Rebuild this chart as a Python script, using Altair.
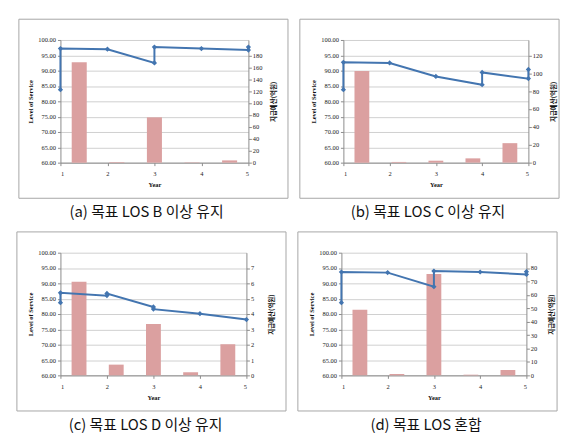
import altair as alt
import pandas as pd

YEARS = [1, 2, 3, 4, 5]
BAR_SLOTS = ["1", "2", "3", "4", "5"]
LOS_TICKS = [60, 65, 70, 75, 80, 85, 90, 95, 100]

# (a) 목표 LOS B 이상 유지
A_LOS_YEAR = [1, 1, 2, 3, 3, 4, 5, 5]
A_LOS = [83.8, 97.2, 97.0, 92.5, 97.7, 97.2, 96.7, 97.7]
A_BUDGET = [168.5, 1.0, 76.0, 0.6, 3.8]
A_BUDGET_TICKS = [0, 20, 40, 60, 80, 100, 120, 140, 160, 180]

# (b) 목표 LOS C 이상 유지
B_LOS_YEAR = [1, 1, 2, 3, 4, 4, 5, 5]
B_LOS = [83.8, 92.7, 92.5, 88.1, 85.4, 89.4, 87.4, 90.4]
B_BUDGET = [102.5, 0.8, 2.2, 4.8, 21.8]
B_BUDGET_TICKS = [0, 20, 40, 60, 80, 100, 120]

# (c) 목표 LOS D 이상 유지
C_LOS_YEAR = [1, 1, 2, 2, 3, 3, 4, 5]
C_LOS = [83.7, 86.9, 86.0, 86.7, 82.3, 81.6, 80.1, 78.2]
C_BUDGET = [6.1, 0.7, 3.35, 0.2, 2.03]
C_BUDGET_TICKS = [0, 1, 2, 3, 4, 5, 6, 7]

# (d) 목표 LOS 혼합
D_LOS_YEAR = [1, 1, 2, 3, 3, 4, 5, 5]
D_LOS = [83.7, 93.7, 93.5, 88.9, 94.0, 93.7, 92.9, 93.8]
D_BUDGET = [48.9, 1.0, 75.5, 0.5, 4.0]
D_BUDGET_TICKS = [0, 10, 20, 30, 40, 50, 60, 70, 80]

CAPTIONS = ["(a) 목표 LOS B 이상 유지", "(b) 목표 LOS C 이상 유지",
            "(c) 목표 LOS D 이상 유지", "(d) 목표 LOS 혼합"]

SERIF = "Liberation Serif"
KFONT = "Noto Sans CJK KR"
LINE_COLOR = "#4375b0"
BAR_COLOR = "#dba0a0"
AX_COLOR = "#8c8c8c"


def panel(los_year, los, budget, budget_ticks, caption, w, frame_l, frame_r):
    h = 124
    bmax = budget_ticks[-1] * 8 / 7
    los_df = pd.DataFrame({"Year": los_year, "LOS": los, "idx": list(range(len(los)))})
    bud_df = pd.DataFrame({"slot": BAR_SLOTS, "budget": budget})

    frame = alt.Chart(pd.DataFrame({"k": [0]})).mark_rect(
        fill="transparent", stroke="#a6a6a6", strokeWidth=1, clip=False
    ).encode(
        x=alt.value(-frame_l), x2=alt.value(w + frame_r),
        y=alt.value(-21), y2=alt.value(h + 36),
    )

    bars = alt.Chart(bud_df).mark_bar(color=BAR_COLOR).encode(
        x=alt.X("slot:N", sort=BAR_SLOTS,
                scale=alt.Scale(paddingInner=0.6, paddingOuter=0.3), axis=None),
        y=alt.Y("budget:Q",
                scale=alt.Scale(domain=[0, bmax], nice=False, zero=True),
                axis=alt.Axis(orient="right", values=budget_ticks, format="d",
                              title="지급예산(억원)", titleFont=KFONT,
                              titleFontSize=6.5, titleFontWeight="bold",
                              titleAngle=270, titleBaseline="middle",
                              titleAlign="center", titleX=25, titleY=h / 2,
                              grid=False, tickSize=3, labelPadding=1,
                              labelFont=SERIF, labelFontSize=6.5)),
    )

    line = alt.Chart(los_df).mark_line(
        color=LINE_COLOR, strokeWidth=2,
        point=alt.OverlayMarkDef(shape="diamond", filled=True, size=28, color=LINE_COLOR),
    ).encode(
        x=alt.X("Year:Q", scale=alt.Scale(domain=[1, 5], nice=False, zero=False),
                axis=alt.Axis(values=YEARS, format="d", title="Year", grid=False,
                              tickSize=3, labelPadding=5, titlePadding=5,
                              labelFont=SERIF, labelFontSize=6.5,
                              titleFont=SERIF, titleFontSize=6.5,
                              titleFontWeight="bold")),
        y=alt.Y("LOS:Q", scale=alt.Scale(domain=[60, 100], nice=False, zero=False),
                axis=alt.Axis(orient="left", values=LOS_TICKS, format=".2f",
                              title="Level of Service", grid=True,
                              tickSize=3, labelPadding=2, titlePadding=4,
                              labelFont=SERIF, labelFontSize=6.5,
                              titleFont=SERIF, titleFontSize=6.5,
                              titleFontWeight="bold")),
        order="idx:Q",
    )

    cap = alt.Chart(pd.DataFrame({"t": [caption]})).mark_text(
        font=KFONT, fontSize=15, align="center", baseline="middle",
        color="#111111", clip=False,
    ).encode(text="t:N", x=alt.value(w / 2 - 8), y=alt.value(h + 50))

    return alt.layer(frame, bars, line, cap).resolve_scale(
        x="independent", y="independent"
    ).properties(width=w, height=h)


pa = panel(A_LOS_YEAR, A_LOS, A_BUDGET, A_BUDGET_TICKS, CAPTIONS[0], 190, 42, 40)
pb = panel(B_LOS_YEAR, B_LOS, B_BUDGET, B_BUDGET_TICKS, CAPTIONS[1], 187, 44, 31)
pc = panel(C_LOS_YEAR, C_LOS, C_BUDGET, C_BUDGET_TICKS, CAPTIONS[2], 188, 44, 40)
pd_ = panel(D_LOS_YEAR, D_LOS, D_BUDGET, D_BUDGET_TICKS, CAPTIONS[3], 187, 44, 31)

chart = alt.vconcat(
    alt.hconcat(pa, pb, spacing=10),
    alt.hconcat(pc, pd_, spacing=10),
    spacing=11,
).properties(
    padding={"left": 8, "top": 8, "right": 4, "bottom": 4}
).configure_view(strokeWidth=0).configure_axis(
    domainColor=AX_COLOR, tickColor=AX_COLOR, gridColor="#cfcfcf",
    labelColor="#222222", titleColor="#111111", domainWidth=1,
)

chart.save("out.html", embed_options={"renderer": "svg", "actions": False})
